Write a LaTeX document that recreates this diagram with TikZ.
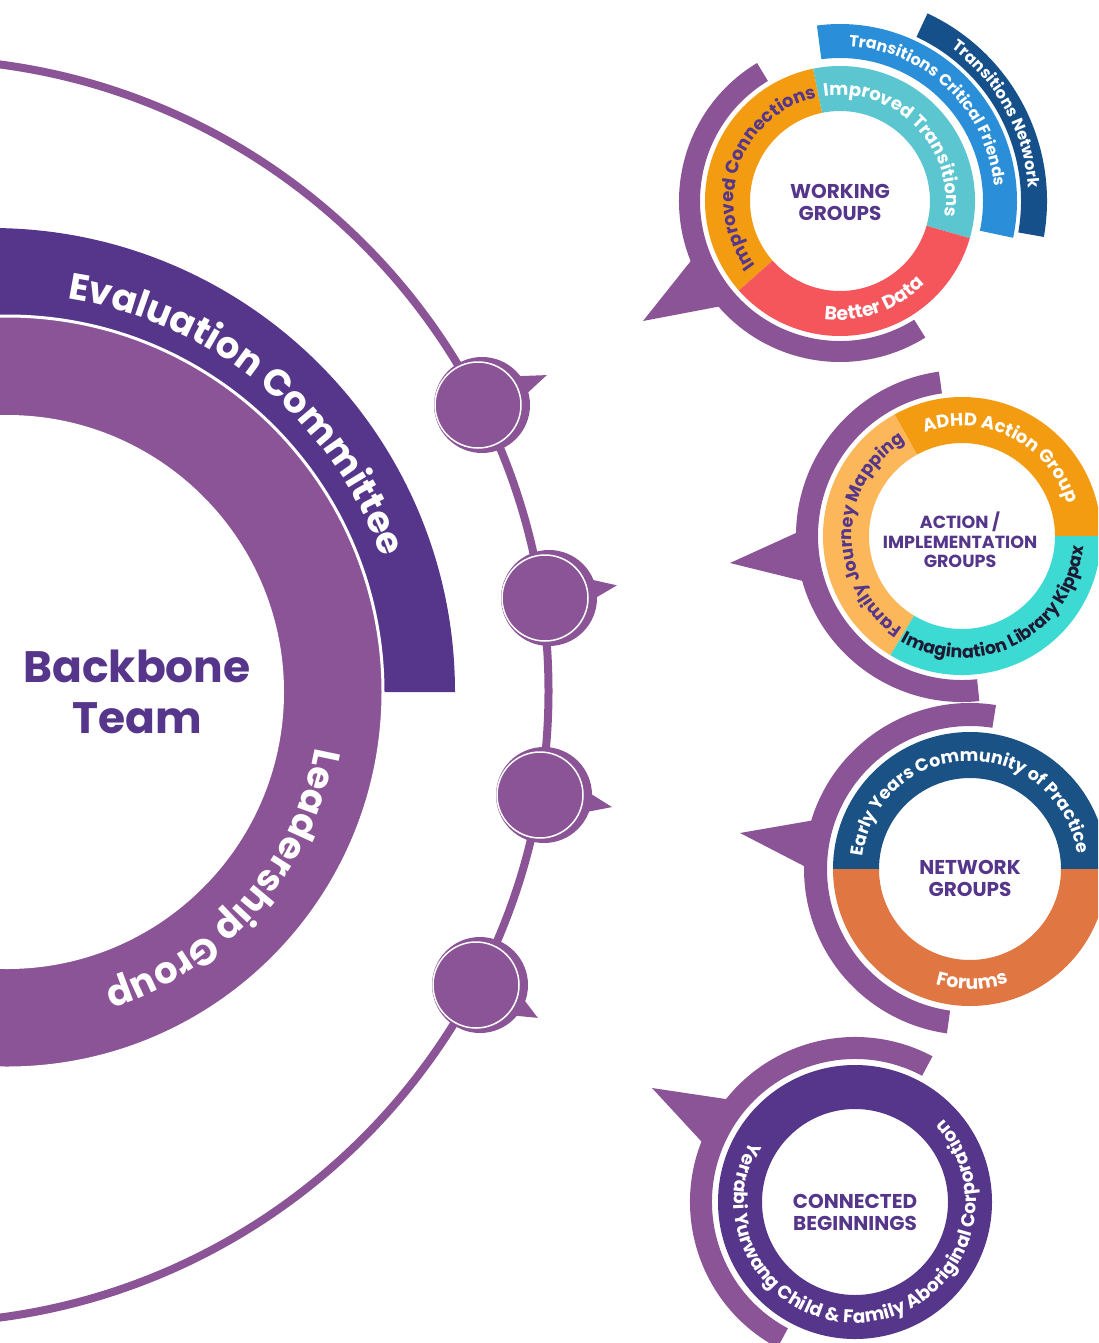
\documentclass[tikz,border=0pt]{standalone}
\usepackage{fontspec}
\setmainfont{Poppins}
\usetikzlibrary{decorations.text}

\definecolor{lp}{RGB}{139,84,150}
\definecolor{dp}{RGB}{85,54,138}
\definecolor{orangeA}{RGB}{243,156,18}
\definecolor{tealA}{RGB}{91,198,208}
\definecolor{redA}{RGB}{245,86,92}
\definecolor{lblue}{RGB}{42,143,216}
\definecolor{navy}{RGB}{22,80,138}
\definecolor{lorange}{RGB}{251,183,90}
\definecolor{turq}{RGB}{61,217,211}
\definecolor{blueA}{RGB}{26,82,134}
\definecolor{forange}{RGB}{224,119,67}
\definecolor{txtdark}{RGB}{30,25,50}

% ring segment: colour, start angle, end angle, outer r, inner r, centre name
\newcommand{\ringseg}[6]{%
  \fill[#1] ([shift={(#2:#4)}]#6) arc[start angle=#2,end angle=#3,radius=#4]
    -- ([shift={(#3:#5)}]#6) arc[start angle=#3,end angle=#2,radius=#5] -- cycle;}
% text on an arc: centre, radius, start, end, size, colour, text
\newcommand{\arctext}[7]{%
  \path[decorate,decoration={text along path,text align=center,text color=#6,
    text={|\fontsize{#5}{#5}\selectfont\bfseries|#7}}]
    ([shift={(#3:#2)}]#1) arc[start angle=#3,end angle=#4,radius=#2];}
% text spread over an exact arc
\newcommand{\arctextfit}[7]{%
  \path[decorate,decoration={text along path,text align={fit to path},text color=#6,
    text={|\fontsize{#5}{#5}\selectfont\bfseries|#7}}]
    ([shift={(#3:#2)}]#1) arc[start angle=#3,end angle=#4,radius=#2];}
% bead: name, x, y, tail angle, tail length
\newcommand{\bead}[5]{%
  \coordinate (#1) at (#2,#3);
  \fill[lp] ([shift={(#4+17:44)}]#1) -- ([shift={(#4:#5)}]#1) -- ([shift={(#4-15:44)}]#1) -- cycle;
  \fill[lp] ([shift={(4,0)}]#1) circle[radius=48];
  \draw[white,line width=1.5,fill=lp] (#1) circle[radius=43];}

\tikzset{
  lab/.style={align=center,text=dp,inner sep=0pt,font=\fontsize{20}{22}\selectfont\bfseries},
}

\begin{document}
\begin{tikzpicture}[x=1pt,y=1pt]
\useasboundingbox (0,0) rectangle (1098,-1343);
\clip (0,0) rectangle (1098,-1343);
\fill[white] (0,0) rectangle (1098,-1343);

% centres
\coordinate (c0) at (7,-692);
\coordinate (evc) at (-9,-692);
\coordinate (bigc) at (-83.5,-691);
\coordinate (g1) at (840,-201);
\coordinate (g2) at (962,-536);
\coordinate (g3) at (970,-869);
\coordinate (g4) at (855,-1202);

% big thin arc
\draw[lp,line width=8] (bigc) circle[radius=632];

% evaluation committee band
\fill[dp] ([shift={(0:464)}]evc) arc[start angle=0,end angle=180,radius=464] -- cycle;
% leadership ring
\fill[lp,draw=white,line width=3] (c0) circle[radius=376];
\fill[white] (c0) circle[radius=277];

% beads
\bead{b1}{478}{-405}{23.5}{75}
\bead{b2}{545}{-598}{10}{73}
\bead{b3}{540}{-795}{-9.5}{73}
\bead{b4}{476}{-985}{-28}{70}

% ---- group 1: working groups
\coordinate (g1tip) at (643,-321);
\fill[lp] ([shift={(200:152)}]g1) -- (g1tip) -- ([shift={(223:152)}]g1) -- cycle;
\ringseg{lp}{121}{302}{161}{140}{g1}
\ringseg{orangeA}{101.5}{221.5}{135}{90}{g1}
\ringseg{tealA}{-16}{101.5}{135}{90}{g1}
\ringseg{redA}{221.5}{344}{135}{90}{g1}
\ringseg{lblue}{-12}{97.5}{177}{143}{g1}
\ringseg{navy}{-10}{65}{207}{181}{g1}

% ---- group 2: action / implementation
\coordinate (g2tip) at (730,-563);
\fill[lp] ([shift={(177:155)}]g2) -- (g2tip) -- ([shift={(198:155)}]g2) -- cycle;
\ringseg{lp}{98}{276}{166}{144}{g2}
\ringseg{orangeA}{0}{119}{139}{93}{g2}
\ringseg{lorange}{119}{239}{139}{93}{g2}
\ringseg{turq}{239}{360}{139}{93}{g2}

% ---- group 3: network groups
\coordinate (g3tip) at (740,-833);
\fill[lp] ([shift={(161:155)}]g3) -- (g3tip) -- ([shift={(181:155)}]g3) -- cycle;
\ringseg{lp}{81}{262}{166}{143}{g3}
\ringseg{blueA}{0}{180}{137}{91}{g3}
\ringseg{forange}{180}{360}{137}{91}{g3}

% ---- group 4: connected beginnings
\coordinate (g4tip) at (652,-1088);
\fill[lp] ([shift={(139:154)}]g4) -- (g4tip) -- ([shift={(160.5:154)}]g4) -- cycle;
\ringseg{lp}{62}{242}{165}{143}{g4}
\fill[dp,even odd rule] (g4) circle[radius=137] (g4) circle[radius=93];

% ---- texts on arcs
\arctext{c0}{398}{110}{-9}{37}{white}{Evaluation Committee}
\arctext{c0}{313}{20}{-102}{37}{white}{Leadership Group}

\arctext{g1}{106}{250}{70}{18}{dp}{Improved Connections}
\arctext{g1}{106}{135}{-45}{18}{white}{Improved Transitions}
\arctext{g1}{119}{229}{349}{19}{white}{Better Data}
\arctext{g1}{155}{136}{-44}{16}{white}{Transitions Critical Friends}
\arctext{g1}{189}{119}{-61}{16}{white}{Transitions Network}

\arctext{g2}{110}{153.5}{-26.5}{18}{white}{ADHD Action Group}
\arctext{g2}{110}{269}{89}{17.5}{dp}{Family Journey Mapping}
\arctext{g2}{122}{207.5}{387.5}{17.5}{txtdark}{Imagination Library Kippax}

\arctext{g3}{108}{200.7}{-19.3}{17.5}{white}{Early Years Community of Practice}
\arctext{g3}{120}{181}{361}{19}{white}{Forums}

\arctextfit{g4}{121}{150}{403}{18.5}{white}{Yerrabi Yurwang Child {\&} Family Aboriginal Corporation}

% ---- centre labels
\node[align=center,text=dp,inner sep=0pt,font=\fontsize{44}{51}\selectfont\bfseries] (bb) at (137,-692) {Backbone\\Team};
\node[lab] (wg) at (840,-202) {WORKING\\GROUPS};
\node[lab,font=\fontsize{17.5}{19.5}\selectfont\bfseries] (ag) at (960,-540) {ACTION /\\IMPLEMENTATION\\GROUPS};
\node[lab] (ng) at (970,-878) {NETWORK\\GROUPS};
\node[lab] (cb) at (855,-1212) {CONNECTED\\BEGINNINGS};
\end{tikzpicture}
\end{document}
